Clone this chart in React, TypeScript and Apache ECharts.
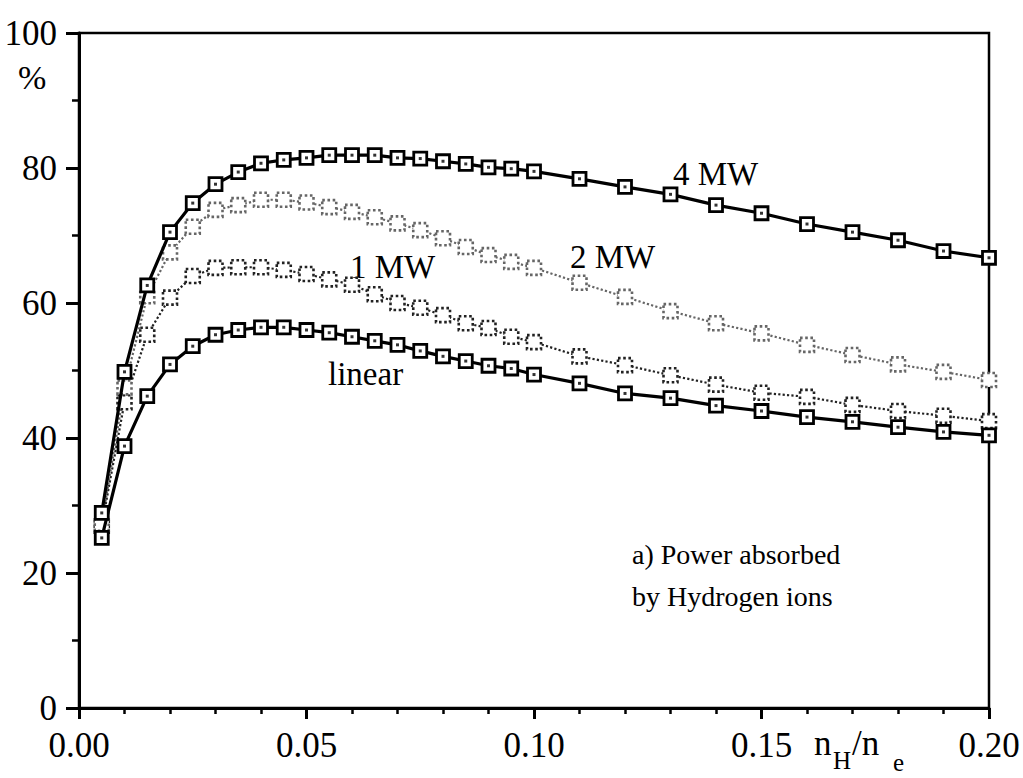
import React, { useEffect, useRef } from "react";
import * as echarts from "echarts";

const xValues = [
  0.005, 0.01, 0.015, 0.02, 0.025, 0.03, 0.035, 0.04, 0.045, 0.05,
  0.055, 0.06, 0.065, 0.07, 0.075, 0.08, 0.085, 0.09, 0.095, 0.1,
  0.11, 0.12, 0.13, 0.14, 0.15, 0.16, 0.17, 0.18, 0.19, 0.2,
];

const mw4 = [
  28.9, 49.8, 62.6, 70.5, 74.8, 77.6, 79.4, 80.7, 81.2, 81.5,
  81.9, 81.9, 81.9, 81.5, 81.4, 81.0, 80.6, 80.1, 79.9, 79.5,
  78.4, 77.2, 76.1, 74.5, 73.3, 71.7, 70.5, 69.3, 67.7, 66.7,
];

const mw2 = [
  27.3, 47.5, 61.0, 67.5, 71.3, 73.8, 74.5, 75.3, 75.3, 74.9,
  74.2, 73.5, 72.7, 71.8, 70.8, 69.6, 68.3, 67.1, 66.1, 65.2,
  63.0, 60.9, 58.8, 57.0, 55.5, 53.8, 52.3, 50.9, 49.8, 48.6,
];

const mw1 = [
  27.0, 45.3, 55.3, 60.8, 64.0, 65.2, 65.3, 65.3, 64.9, 64.3,
  63.5, 62.7, 61.3, 60.0, 59.3, 58.2, 57.0, 56.3, 55.0, 54.2,
  52.1, 50.8, 49.3, 47.9, 46.7, 46.1, 44.9, 44.0, 43.3, 42.5,
];

const linear = [
  25.2, 38.8, 46.2, 50.9, 53.6, 55.3, 56.0, 56.4, 56.4, 56.0,
  55.6, 55.0, 54.4, 53.8, 52.9, 52.1, 51.4, 50.7, 50.3, 49.4,
  48.1, 46.6, 45.9, 44.8, 44.0, 43.1, 42.4, 41.6, 40.9, 40.4,
];

const seriesNames = ["linear", "1 MW", "2 MW", "4 MW"];

const FONT = "Liberation Serif";

function pairs(ys: number[]) {
  return xValues.map((x, i) => [x, ys[i]]);
}

export default function App() {
  const ref = useRef<HTMLDivElement>(null);

  useEffect(() => {
    if (!ref.current) return;
    const chart = echarts.init(ref.current, undefined, { renderer: "svg" });

    const solidSeries = (name: string, ys: number[]) => ({
      name,
      type: "line",
      data: pairs(ys),
      symbol: "rect",
      symbolSize: 13,
      lineStyle: { color: "#000", width: 3.2 },
      itemStyle: { color: "#fff", borderColor: "#000", borderWidth: 2.8 },
      z: 5,
    });
    const dotSeries = (name: string, ys: number[]) => ({
      name: name + " dot",
      type: "scatter",
      data: pairs(ys),
      symbol: "rect",
      symbolSize: 3,
      itemStyle: { color: "#000" },
      z: 6,
      silent: true,
    });
    const dottedSeries = (name: string, ys: number[], color: string) => ({
      name,
      type: "line",
      data: pairs(ys),
      symbol: "rect",
      symbolSize: 14,
      lineStyle: { color, width: 2.2, type: "dotted" },
      itemStyle: {
        color: "#fff",
        borderColor: color,
        borderWidth: 2.6,
        borderType: "dotted",
      },
      z: 4,
    });

    chart.setOption({
      animation: false,
      backgroundColor: "#fff",
      textStyle: { fontFamily: FONT },
      grid: {
        left: 79,
        right: 34,
        top: 33,
        bottom: 70,
        show: true,
        borderColor: "#000",
        borderWidth: 2.5,
        backgroundColor: "transparent",
      },
      xAxis: {
        type: "value",
        min: 0,
        max: 0.2,
        interval: 0.05,
        axisLine: { lineStyle: { color: "#000", width: 3 } },
        axisTick: { show: true, length: 11, lineStyle: { color: "#000", width: 3 } },
        minorTick: { show: true, splitNumber: 5, length: 6, lineStyle: { color: "#000", width: 2.5 } },
        splitLine: { show: false },
        axisLabel: {
          color: "#000",
          fontFamily: FONT,
          fontSize: 35,
          margin: 20,
          formatter: (v: number) => v.toFixed(2),
        },
      },
      yAxis: {
        type: "value",
        min: 0,
        max: 100,
        interval: 20,
        axisLine: { lineStyle: { color: "#000", width: 3 } },
        axisTick: { show: true, length: 13, lineStyle: { color: "#000", width: 3 } },
        minorTick: { show: true, splitNumber: 2, length: 7, lineStyle: { color: "#000", width: 2.5 } },
        splitLine: { show: false },
        axisLabel: {
          color: "#000",
          fontFamily: FONT,
          fontSize: 35,
          margin: 22,
        },
      },
      series: [
        solidSeries(seriesNames[0], linear),
        dottedSeries(seriesNames[1], mw1, "#222"),
        dottedSeries(seriesNames[2], mw2, "#666"),
        solidSeries(seriesNames[3], mw4),
        dotSeries(seriesNames[0], linear),
        dotSeries(seriesNames[3], mw4),
      ],
      graphic: [
        { type: "text", left: 18, top: 60, style: { text: "%", font: `34px ${FONT}`, fill: "#000" } },
        { type: "text", left: 673, top: 157, style: { text: "4 MW", font: `33px ${FONT}`, fill: "#000" } },
        { type: "text", left: 570, top: 240, style: { text: "2 MW", font: `33px ${FONT}`, fill: "#000" } },
        { type: "text", left: 350, top: 250, style: { text: "1 MW", font: `33px ${FONT}`, fill: "#000" } },
        { type: "text", left: 328, top: 357, style: { text: "linear", font: `33px ${FONT}`, fill: "#000" } },
        { type: "text", left: 632, top: 540, style: { text: "a) Power absorbed", font: `28px ${FONT}`, fill: "#000" } },
        { type: "text", left: 632, top: 582, style: { text: "by Hydrogen ions", font: `28px ${FONT}`, fill: "#000" } },
        { type: "text", left: 814, top: 726, style: { text: "n", font: `35px ${FONT}`, fill: "#000" } },
        { type: "text", left: 833, top: 748, style: { text: "H", font: `25px ${FONT}`, fill: "#000" } },
        { type: "text", left: 852, top: 726, style: { text: "/n", font: `35px ${FONT}`, fill: "#000" } },
        { type: "text", left: 893, top: 750, style: { text: "e", font: `25px ${FONT}`, fill: "#000" } },
      ],
    });

    return () => chart.dispose();
  }, []);

  return (
    <div
      ref={ref}
      style={{ position: "absolute", left: 0, top: 0, width: 1023, height: 778 }}
    />
  );
}
